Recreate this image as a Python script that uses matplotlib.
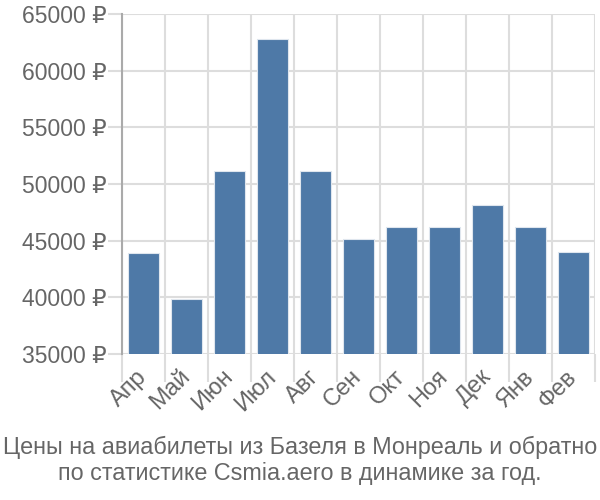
import matplotlib
matplotlib.use("Agg")
import matplotlib.pyplot as plt
import matplotlib.transforms as mtransforms
import numpy as np
from matplotlib.ticker import FuncFormatter, MultipleLocator, FixedLocator

months = ["Апр", "Май", "Июн", "Июл", "Авг", "Сен", "Окт", "Ноя", "Дек", "Янв", "Фев"]
prices = [43950, 39850, 51150, 62820, 51150, 45120, 46230, 46230, 48170, 46230, 44000]
title = "Цены на авиабилеты из Базеля в Монреаль и обратно\nпо статистике Csmia.aero в динамике за год."

plt.rcParams['font.family'] = ['Liberation Sans', 'DejaVu Sans']

fig = plt.figure(figsize=(6, 5), dpi=100)
ax = fig.add_axes([0.203, 0.292, 0.789, 0.680])

x = np.arange(len(months))
ax.bar(x, prices, width=0.73, color="#4e79a7", edgecolor="#dfe6ee", linewidth=0.8, zorder=3)

ax.set_xlim(-0.5, len(months) - 0.5)
ax.set_ylim(35000, 65000)

grid_c = "#dddddd"
ax.yaxis.set_major_locator(MultipleLocator(5000))
ax.yaxis.set_major_formatter(FuncFormatter(lambda v, p: f"{int(v)} ₽"))
ax.set_xticks(x)
ax.set_xticklabels(months, rotation=45, ha="right", va="center", rotation_mode="anchor")
ax.xaxis.set_minor_locator(FixedLocator(np.arange(len(months) + 1) - 0.5))

offset = mtransforms.ScaledTranslation(4 / 100, 0, fig.dpi_scale_trans)
for lbl in ax.get_xticklabels():
    lbl.set_transform(lbl.get_transform() + offset)

ax.grid(True, axis="y", which="major", color=grid_c, linewidth=1.5, zorder=0)
ax.grid(True, axis="x", which="minor", color=grid_c, linewidth=1.5, zorder=0)
ax.grid(False, axis="x", which="major")

ax.tick_params(axis="x", which="major", length=0, pad=14, labelsize=17, labelcolor="#666666")
ax.tick_params(axis="x", which="minor", length=20, width=1.5, color=grid_c)
ax.tick_params(axis="y", which="major", length=10, width=1.5, color=grid_c, labelsize=16.5, labelcolor="#666666", pad=1)

for s in ["top", "right", "bottom"]:
    ax.spines[s].set_visible(False)
ax.spines["left"].set_color("#aaaaaa")
ax.spines["left"].set_linewidth(1.5)

fig.text(0.5, 0.105, title.split("\n")[0], ha="center", va="center", fontsize=16.8, color="#666666")
fig.text(0.5, 0.053, title.split("\n")[1], ha="center", va="center", fontsize=16.8, color="#666666")

fig.savefig("out.png", dpi=100)
